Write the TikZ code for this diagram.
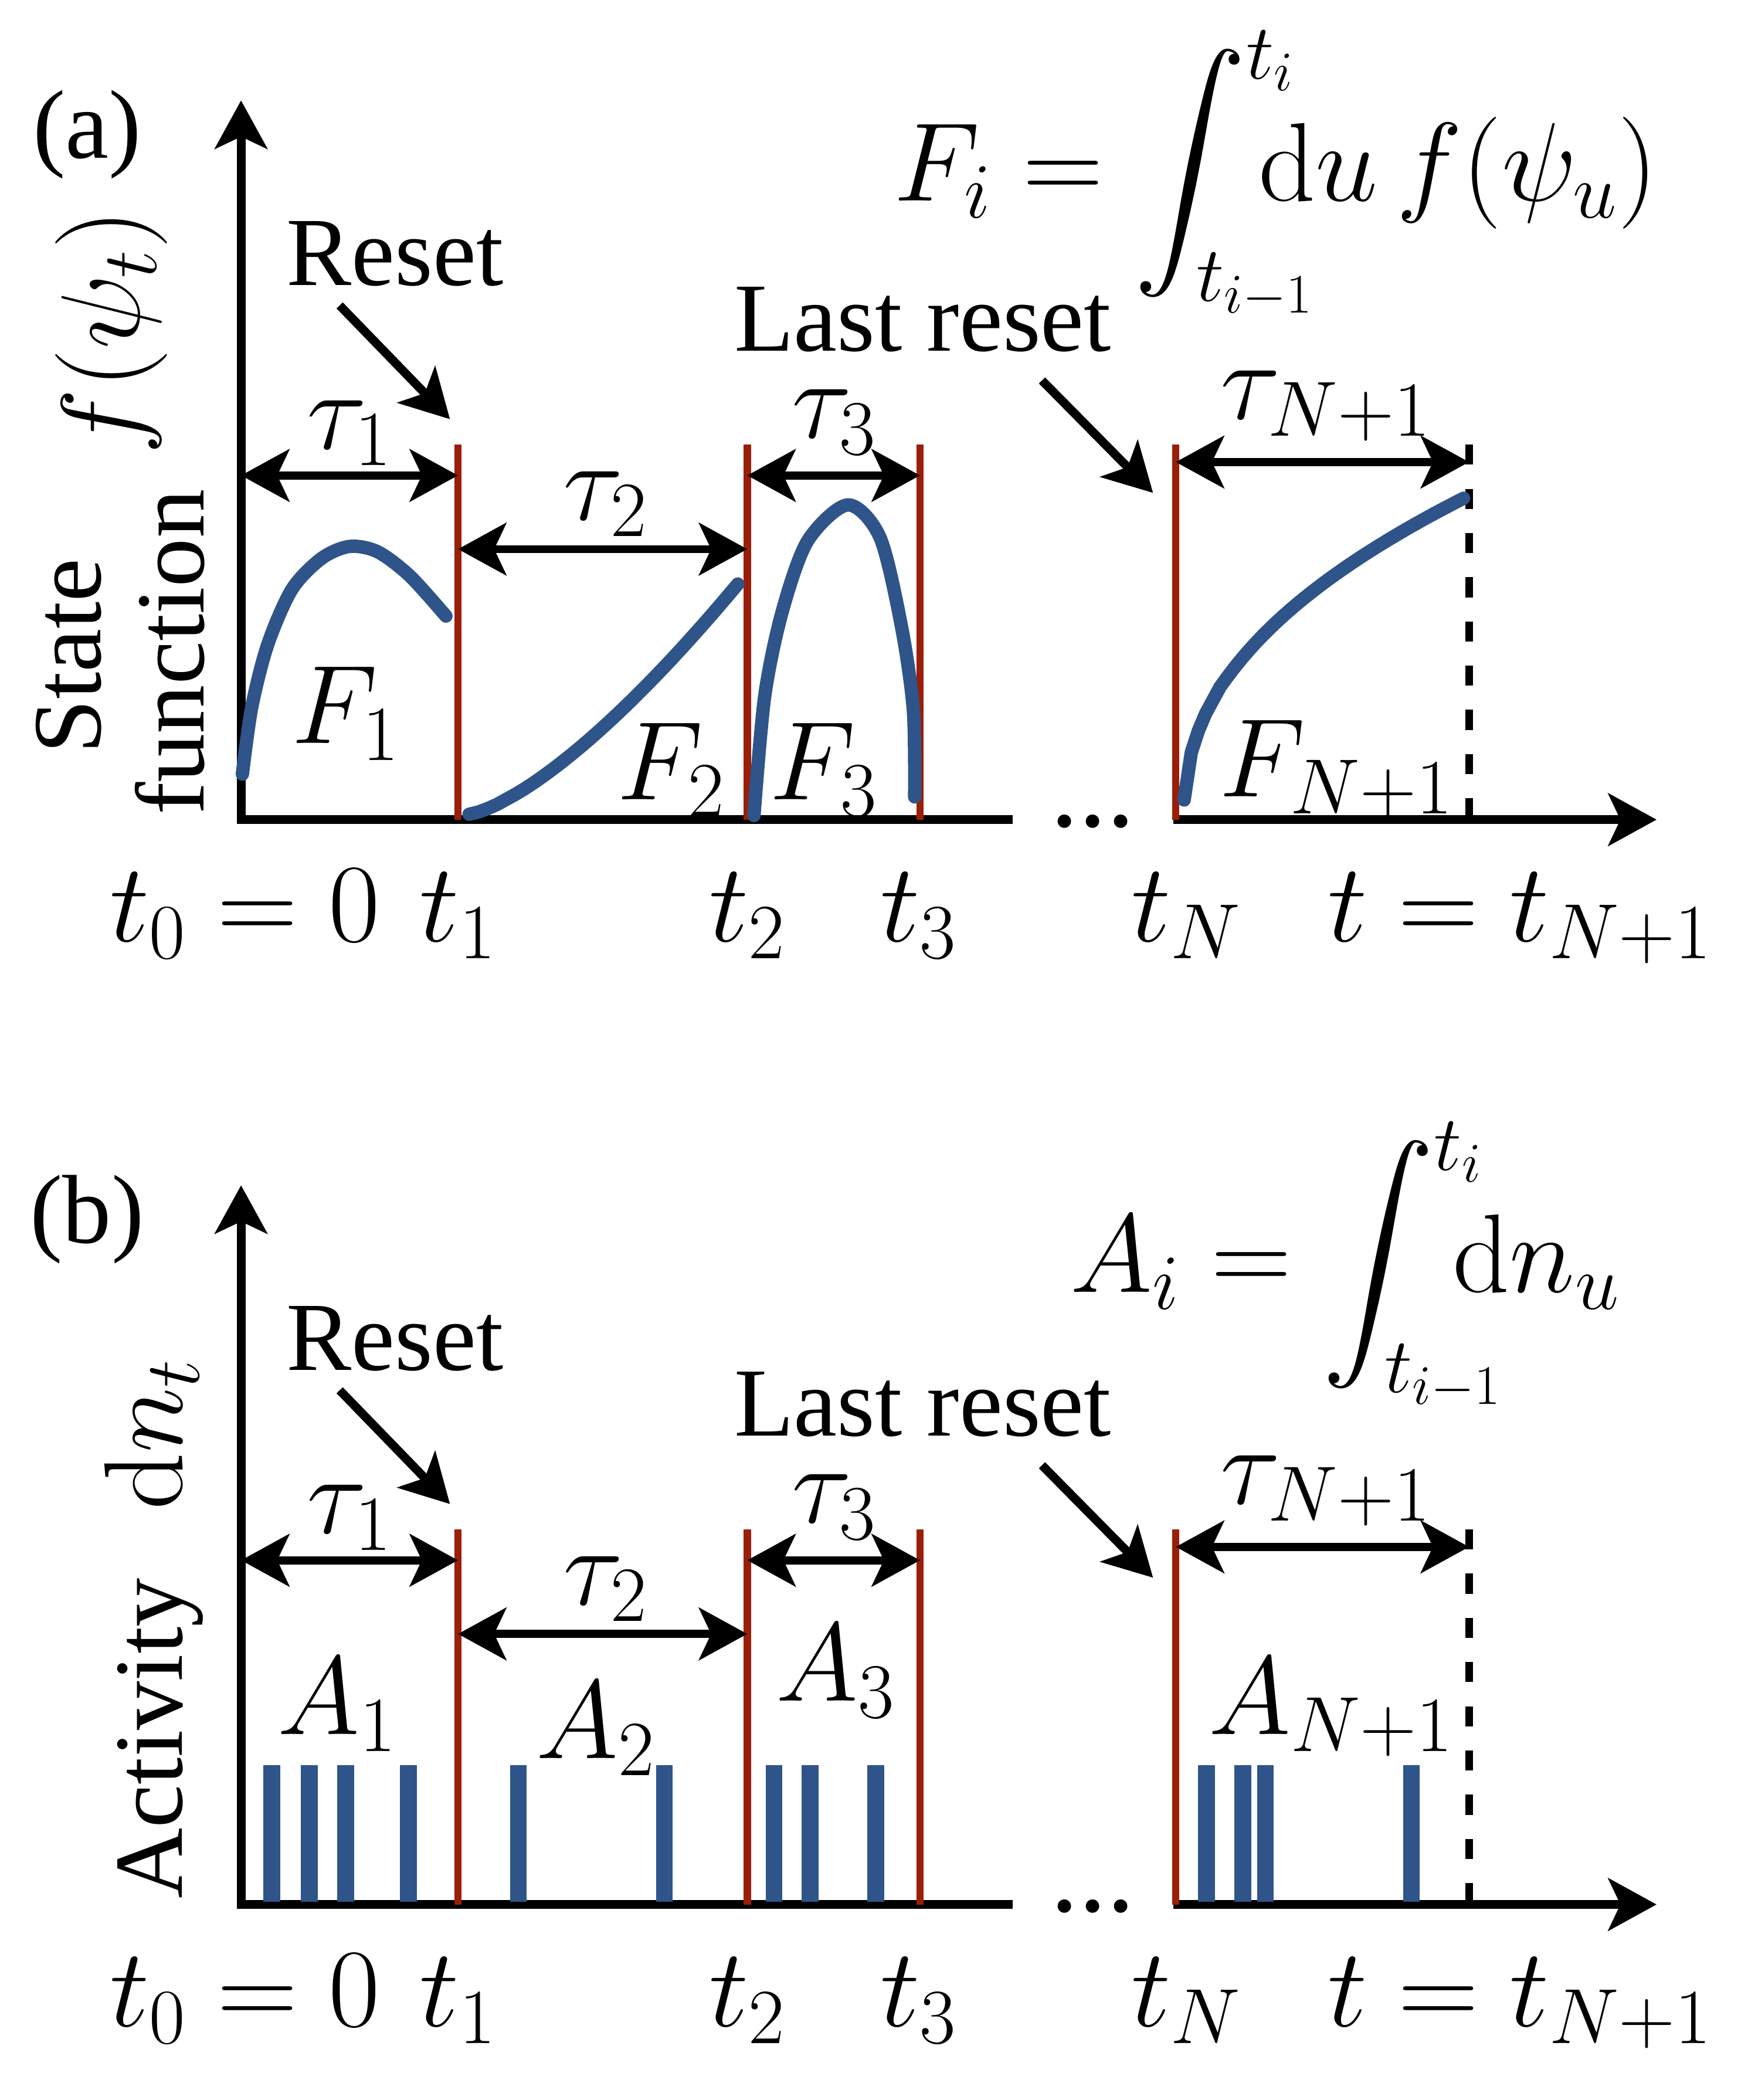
\RequirePackage{fix-cm}
\documentclass[tikz,border=0pt]{standalone}
\usepackage{amsmath}
\DeclareFontShape{OMX}{cmex}{m}{n}{<->cmex10}{}
\usepackage[no-math]{fontspec}
\setmainfont{Liberation Serif}
\usetikzlibrary{arrows.meta, calc}

\definecolor{trajblue}{RGB}{46,84,138}
\definecolor{resetred}{RGB}{154,30,8}

\newcommand{\txtsize}{\fontsize{41.5}{50}\selectfont}
\newcommand{\mthsize}{\fontsize{47.5}{56}\selectfont}

\begin{document}
\begin{tikzpicture}[
        x=0.2mm, y=-0.2mm,
        >={Stealth[length=7.2mm, width=7.8mm, inset=1.8mm]},
        axisline/.style={line width=1.3mm},
        spanarrow/.style={<->, line width=1.2mm},
        resetline/.style={draw=resetred, line width=1.1mm},
        endline/.style={line width=1.2mm, dash pattern=on 3mm off 3.6mm},
        pointer/.style={->, line width=1.3mm},
        traj/.style={draw=trajblue, line width=2mm, line cap=round},
        spike/.style={draw=trajblue, line width=2.5mm},
        lbl/.style={inner sep=0pt, font=\txtsize},
        mlbl/.style={inner sep=0pt, font=\mthsize}
    ]
    \useasboundingbox (0,0) rectangle (1305,1568);

    % frame shared by both panels
    \foreach \p/\dy in {a/0, b/810} {
    \begin{scope}[shift={(0,\dy)}]
        \coordinate (ytop-\p) at (180,75);
        \coordinate (o-\p) at (180,612);
        \coordinate (xbrk-\p) at (756,612);
        \coordinate (xres-\p) at (876,612);
        \coordinate (xend-\p) at (1237,612);
        \draw[axisline, <-] (ytop-\p) -- (o-\p) -- (xbrk-\p);
        \draw[axisline, ->] (xres-\p) -- (xend-\p);
        \node[inner sep=0pt, font=\fontsize{48}{56}\selectfont, anchor=base] (dots-\p) at (816,617) {...};

        % resets
        \foreach \x in {342, 558, 687, 878}
            \draw[resetline] (\x,332) -- (\x,612);
        \draw[endline] (1097,332) -- (1097,612);

        % interval arrows
        \coordinate (s0-\p) at (180,355);
        \coordinate (s1-\p) at (342,355);
        \coordinate (s1b-\p) at (342,410);
        \coordinate (s2b-\p) at (558,410);
        \coordinate (s2-\p) at (558,355);
        \coordinate (s3-\p) at (687,355);
        \coordinate (sN-\p) at (878,345);
        \coordinate (sE-\p) at (1097,345);
        \draw[spanarrow] (s0-\p) -- (s1-\p);
        \draw[spanarrow] (s1b-\p) -- (s2b-\p);
        \draw[spanarrow] (s2-\p) -- (s3-\p);
        \draw[spanarrow] (sN-\p) -- (sE-\p);
        \node[mlbl, anchor=base] (tau1-\p) at (261,335) {$\tau_1$};
        \node[mlbl, anchor=base] (tau2-\p) at (452,388) {$\tau_2$};
        \node[mlbl, anchor=base] (tau3-\p) at (623,327) {$\tau_3$};
        \node[mlbl, anchor=base] (tauN-\p) at (990,313) {$\tau_{N+1}$};

        % reset labels
        \node[lbl, anchor=base] (reset-\p) at (295,213) {Reset};
        \node[lbl, anchor=base] (last-\p) at (689,262) {Last reset};
        \coordinate (resettip-\p) at (336,313);
        \coordinate (lasttip-\p) at (861,368);
        \draw[pointer] ($(reset-\p.south west)+(40,14)$) -- (resettip-\p);
        \draw[pointer] ($(last-\p.south east)+(-52,21)$) -- (lasttip-\p);

        % time axis labels
        \node[mlbl, anchor=base] (t0-\p) at (183,703) {$t_0=0$};
        \node[mlbl, anchor=base] (t1-\p) at (342,703) {$t_1$};
        \node[mlbl, anchor=base] (t2-\p) at (558,703) {$t_2$};
        \node[mlbl, anchor=base] (t3-\p) at (686,703) {$t_3$};
        \node[mlbl, anchor=base] (tN-\p) at (886,703) {$t_N$};
        \node[mlbl, anchor=base] (tE-\p) at (1135,703) {$t=t_{N+1}$};
    \end{scope}
    }

    % (a) state function
    \node[lbl, anchor=base] (pa) at (65,118) {(a)};
    \node[lbl, anchor=base, rotate=90] (state) at (75,490) {State};
    \node[lbl, anchor=base, rotate=90] (func) at (152,487) {function};
    \node[mlbl, anchor=base, rotate=90] (fpsi) at (104,248) {$f(\psi_t)$};
    \node[mlbl, anchor=base west] (Fdef) at (667,150)
        {$\displaystyle F_i=\int_{t_{i-1}}^{t_i}\mkern-12mu\mathrm{d}u\,f(\psi_u)$};

    \draw[traj] plot[smooth] coordinates {(181,578) (188,528) (200,481) (218,440) (240,417) (261,408) (282,412) (306,430) (333,460)};
    \draw[traj] plot[domain=0.001:1, samples=30] ({350+201*\x}, {608-172*(\x)^1.4});
    \draw[traj] plot[smooth] coordinates {(563,609) (571,520) (584,457) (603,404) (633,377) (657,401) (673,467) (682,530) (683,595)};
    \draw[traj] plot[domain=0.001:1, samples=40] ({884+209*\x}, {608-236*(\x)^0.45});

    \node[mlbl, anchor=base] (F1) at (258,555) {$F_1$};
    \node[mlbl, anchor=base] (F2) at (501,597) {$F_2$};
    \node[mlbl, anchor=base] (F3) at (615,597) {$F_3$};
    \node[mlbl, anchor=base] (FN) at (998,595) {$F_{N+1}$};

    % (b) activity
    \node[lbl, anchor=base] (pb) at (65,928) {(b)};
    \node[lbl, anchor=base, rotate=90] (act) at (136,1216)
        {Activity\hspace{0.7em}{\mthsize$\mathrm{d}n_t$}};
    \node[mlbl, anchor=base west] (Adef) at (799,965)
        {$\displaystyle A_i=\int_{t_{i-1}}^{t_i}\mkern-11mu\mathrm{d}n_u$};

    \foreach \x in {203, 231, 258, 305, 387, 496, 578, 605, 654, 901, 928, 945, 1054}
        \draw[spike] (\x,1318) -- (\x,1420);

    \node[mlbl, anchor=base] (A1) at (252,1295) {$A_1$};
    \node[mlbl, anchor=base] (A2) at (445,1313) {$A_2$};
    \node[mlbl, anchor=base] (A3) at (624,1270) {$A_3$};
    \node[mlbl, anchor=base] (AN) at (994,1295) {$A_{N+1}$};

\end{tikzpicture}
\end{document}
